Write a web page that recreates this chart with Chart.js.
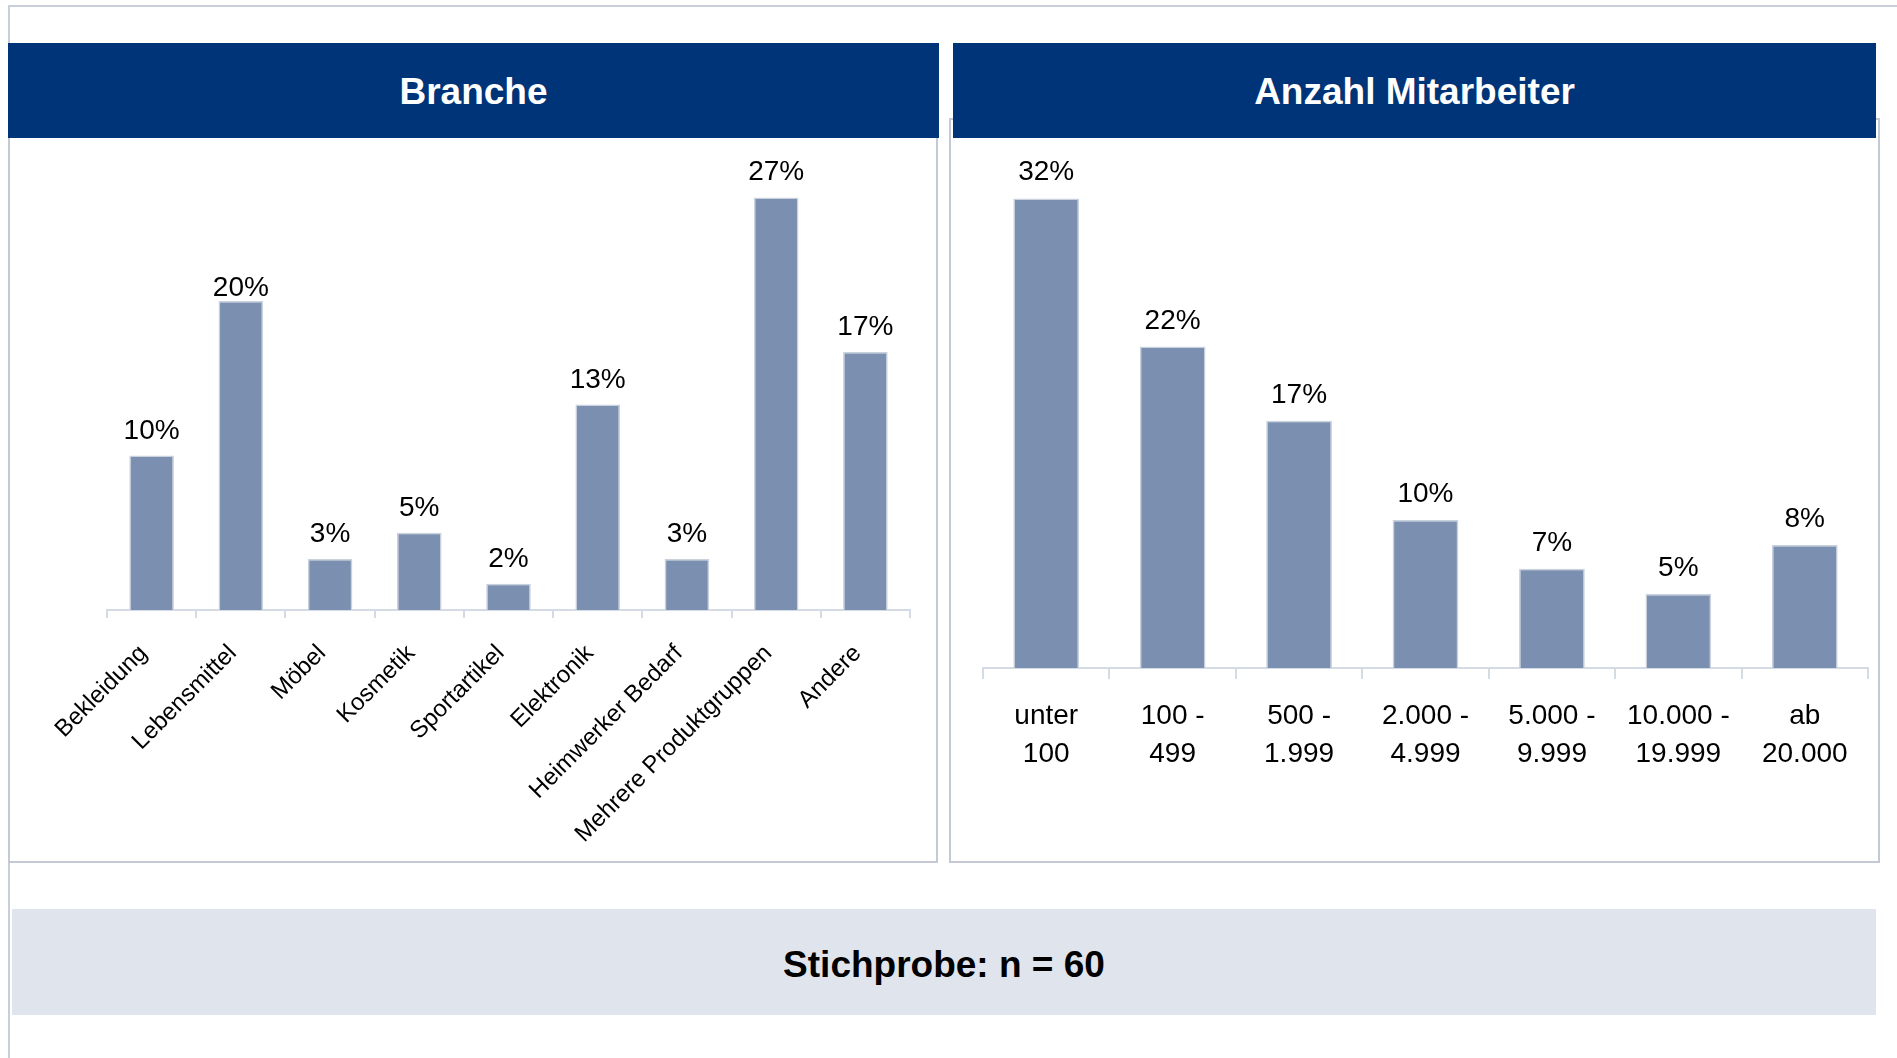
<!DOCTYPE html>
<html lang="de">
<head>
<meta charset="utf-8">
<title>Branche / Anzahl Mitarbeiter</title>
<script src="https://cdn.jsdelivr.net/npm/chart.js@4.4.1/dist/chart.umd.min.js"></script>
<style>
  html, body { margin: 0; padding: 0; background: #fff; }
  body { width: 1897px; height: 1058px; position: relative; overflow: hidden;
         font-family: "Liberation Sans", Arial, sans-serif; }
  .frame-top { position: absolute; left: 8px; top: 5px; right: 0; height: 2px; background: #c8cfda; }
  .frame-left { position: absolute; left: 8px; top: 5px; bottom: 0; width: 2px; background: #c8cfda; }
  .panel { position: absolute; border: 2px solid #c3cad6; box-sizing: border-box; background: #fff; }
  .head { position: absolute; background: #003478; color: #fff; font-weight: bold; font-size: 37px;
          display: flex; align-items: center; justify-content: center; padding-top: 2px; box-sizing: border-box; }
  canvas { position: absolute; }
  .foot { position: absolute; left: 12px; top: 909px; width: 1864px; height: 106px; background: #dfe4ed;
          display: flex; align-items: center; justify-content: center; font-weight: bold; font-size: 37px; color: #000;
          padding-top: 5px; box-sizing: border-box; }
</style>
</head>
<body>
<div class="frame-top"></div>
<div class="frame-left"></div>

<div class="panel" style="left:8px; top:117px; width:930px; height:746px;"></div>
<div class="panel" style="left:949px; top:118px; width:931px; height:745px;"></div>

<div class="head" style="left:8px; top:43px; width:931px; height:95px;">Branche</div>
<div class="head" style="left:953px; top:43px; width:923px; height:95px;">Anzahl Mitarbeiter</div>

<canvas id="branche" width="926" height="720" style="left:10px; top:140px;"></canvas>
<canvas id="mitarbeiter" width="926" height="720" style="left:951px; top:140px;"></canvas>

<div class="foot">Stichprobe: n = 60</div>

<script>
// Branche (percent of sample)
const brancheLabels = ['Bekleidung', 'Lebensmittel', 'Möbel', 'Kosmetik', 'Sportartikel',
  'Elektronik', 'Heimwerker Bedarf', 'Mehrere Produktgruppen', 'Andere'];
const brancheValues = [10, 20, 3.3, 5, 1.7, 13.3, 3.3, 26.7, 16.7];

// Anzahl Mitarbeiter (percent of sample)
const mitarbeiterLabels = [['unter', '100'], ['100 -', '499'], ['500 -', '1.999'], ['2.000 -', '4.999'],
  ['5.000 -', '9.999'], ['10.000 -', '19.999'], ['ab', '20.000']];
const mitarbeiterValues = [31.7, 21.7, 16.7, 10, 6.7, 5, 8.3];

const FONT = '"Liberation Sans", Arial, sans-serif';
const BAR = '#7b8fb0';
const BAR_EDGE = '#c9d1dd';
const AXIS = '#d5dbe5';

// draws the percent value above each bar
const barLabels = {
  id: 'barLabels',
  afterDatasetsDraw(chart, args, opts) {
    const ctx = chart.ctx;
    const meta = chart.getDatasetMeta(0);
    const data = chart.data.datasets[0].data;
    ctx.save();
    ctx.font = '28px ' + FONT;
    ctx.fillStyle = '#000';
    ctx.textAlign = 'center';
    ctx.textBaseline = 'alphabetic';
    meta.data.forEach((bar, i) => {
      const nudge = (opts.nudge && opts.nudge[i]) || 0;
      ctx.fillText(Math.round(data[i]) + '%', bar.x, bar.y - opts.gap + nudge);
    });
    ctx.restore();
  }
};

function makeChart(id, labels, values, cfg) {
  return new Chart(document.getElementById(id), {
    type: 'bar',
    data: {
      labels: labels,
      datasets: [{
        data: values,
        backgroundColor: BAR,
        borderColor: BAR_EDGE,
        borderWidth: 1.5,
        barPercentage: cfg.barPct,
        categoryPercentage: 1
      }]
    },
    options: {
      responsive: false,
      animation: false,
      layout: { padding: cfg.padding },
      plugins: {
        legend: { display: false },
        tooltip: { enabled: false },
        barLabels: { gap: cfg.gap, nudge: cfg.nudge }
      },
      scales: {
        y: { display: false, min: 0, max: cfg.max },
        x: {
          afterFit: (scale) => { scale.height = cfg.axisHeight; },
          grid: { display: true, drawOnChartArea: false, drawTicks: true, tickLength: cfg.tickLength,
                  color: AXIS, lineWidth: 2 },
          border: { display: true, color: AXIS, width: 2 },
          ticks: {
            color: '#000',
            font: { family: FONT, size: cfg.tickSize, lineHeight: 1.36 },
            maxRotation: cfg.rotation, minRotation: cfg.rotation,
            autoSkip: false,
            padding: cfg.tickPad,
            labelOffset: cfg.labelOffset || 0
          }
        }
      }
    },
    plugins: [barLabels]
  });
}

makeChart('branche', brancheLabels, brancheValues, {
  barPct: 0.5, max: 30,
  padding: { left: 97, right: 26, top: 6.5, bottom: 0 },
  axisHeight: 250, tickLength: 8, tickSize: 24, rotation: 45, tickPad: 20, labelOffset: -8,
  gap: 17, nudge: { 1: 12 }
});

makeChart('mitarbeiter', mitarbeiterLabels, mitarbeiterValues, {
  barPct: 0.52, max: 35,
  padding: { left: 32, right: 9, top: 9.6, bottom: 0 },
  axisHeight: 192, tickLength: 11, tickSize: 28, rotation: 0, tickPad: 18,
  gap: 18
});
</script>
</body>
</html>
